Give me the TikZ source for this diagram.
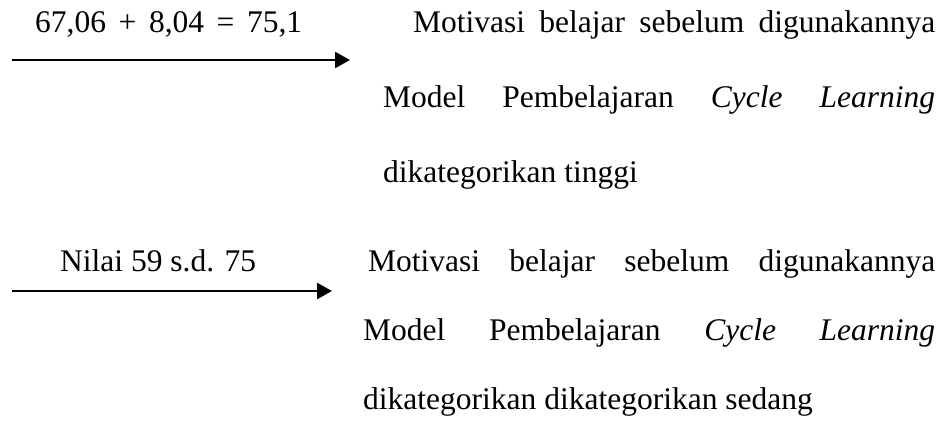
\documentclass[tikz,border=0pt]{standalone}
\usepackage{fontspec}
\setmainfont{Liberation Serif}
\usepackage{tikz}
\usetikzlibrary{arrows.meta,positioning}
\definecolor{txtblack}{RGB}{0,0,0}

\begin{document}
\begin{tikzpicture}[x=1pt, y=-1pt,
  lbl/.style={anchor=base west, inner sep=0pt, font=\fontsize{31.5}{36}\selectfont, txtblack},
  blok/.style={anchor=base west, inner sep=0pt, align=justify, txtblack},
  panah/.style={-{Triangle[length=15pt,width=16pt]}, line width=2.6pt, txtblack}]
\useasboundingbox (0,0) rectangle (946,425);
% tinggi
\node[lbl] (hitung) at (35,33) {67,06\hspace{0.4em}+\hspace{0.4em}8,04\hspace{0.4em}=\hspace{0.4em}75,1};
\coordinate (p1a) at (12,60);
\coordinate (p1b) at (350,60);
\draw[panah] (p1a) -- (p1b);
\node[blok, text width=552pt, font=\fontsize{31.5}{75}\selectfont] (tinggi) at (383,33)
  {\hspace*{30pt}Motivasi belajar sebelum digunakannya\linebreak
   Model Pembelajaran \textit{Cycle Learning}\linebreak
   dikategorikan tinggi};
% sedang
\node[lbl] (nilai) at (60,272) {Nilai 59 s.d. 75};
\coordinate (p2a) at (12,291);
\coordinate (p2b) at (332,291);
\draw[panah] (p2a) -- (p2b);
\node[blok, text width=572pt, font=\fontsize{31.5}{69}\selectfont] (sedang) at (363,272)
  {\hspace*{5pt}Motivasi belajar sebelum digunakannya\linebreak
   Model Pembelajaran \textit{Cycle Learning}\linebreak
   dikategorikan dikategorikan sedang};
\end{tikzpicture}
\end{document}
